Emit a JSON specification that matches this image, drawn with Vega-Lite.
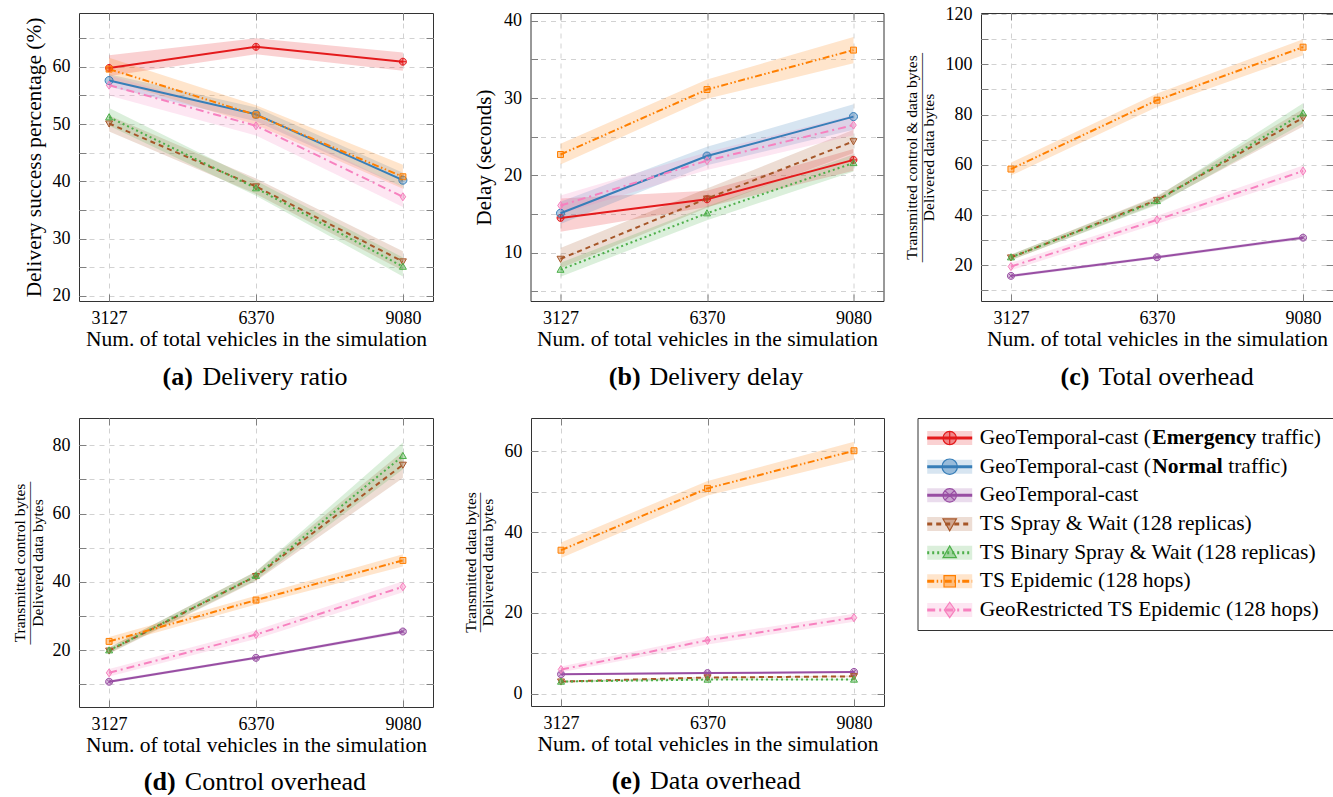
{
"$schema":"https://vega.github.io/schema/vega-lite/v6.json",
"background":"white",
"padding":{"left":11,"top":4,"right":0,"bottom":0},
"spacing":27,
"datasets":{
"d":[
{"p":"a","s":"E","x":3127,"y":59.8,"lo":58.4,"hi":62.0},{"p":"a","s":"E","x":6370,"y":63.5,"lo":62.2,"hi":65.0},{"p":"a","s":"E","x":9080,"y":60.9,"lo":59.3,"hi":62.5},
{"p":"a","s":"N","x":3127,"y":57.6,"lo":56.5,"hi":58.7},{"p":"a","s":"N","x":6370,"y":51.7,"lo":50.5,"hi":52.9},{"p":"a","s":"N","x":9080,"y":40.2,"lo":39.0,"hi":41.5},
{"p":"a","s":"SW","x":3127,"y":50.1,"lo":48.7,"hi":51.5},{"p":"a","s":"SW","x":6370,"y":39.1,"lo":37.8,"hi":40.5},{"p":"a","s":"SW","x":9080,"y":26.0,"lo":24.4,"hi":27.8},
{"p":"a","s":"BSW","x":3127,"y":51.2,"lo":49.7,"hi":52.8},{"p":"a","s":"BSW","x":6370,"y":38.8,"lo":37.5,"hi":40.1},{"p":"a","s":"BSW","x":9080,"y":25.1,"lo":23.4,"hi":26.7},
{"p":"a","s":"EP","x":3127,"y":59.6,"lo":57.7,"hi":61.6},{"p":"a","s":"EP","x":6370,"y":51.6,"lo":49.9,"hi":53.3},{"p":"a","s":"EP","x":9080,"y":40.8,"lo":38.7,"hi":42.9},
{"p":"a","s":"GR","x":3127,"y":56.8,"lo":55.0,"hi":58.5},{"p":"a","s":"GR","x":6370,"y":49.7,"lo":48.0,"hi":51.3},{"p":"a","s":"GR","x":9080,"y":37.3,"lo":35.5,"hi":39.0},
{"p":"b","s":"E","x":3127,"y":14.5,"lo":12.7,"hi":17.0},{"p":"b","s":"E","x":6370,"y":16.9,"lo":15.9,"hi":18.0},{"p":"b","s":"E","x":9080,"y":22.0,"lo":20.6,"hi":23.4},
{"p":"b","s":"N","x":3127,"y":15.1,"lo":13.7,"hi":16.6},{"p":"b","s":"N","x":6370,"y":22.5,"lo":21.3,"hi":23.7},{"p":"b","s":"N","x":9080,"y":27.6,"lo":25.9,"hi":29.2},
{"p":"b","s":"SW","x":3127,"y":9.2,"lo":8.0,"hi":10.6},{"p":"b","s":"SW","x":6370,"y":17.0,"lo":15.8,"hi":18.3},{"p":"b","s":"SW","x":9080,"y":24.4,"lo":22.9,"hi":25.9},
{"p":"b","s":"BSW","x":3127,"y":7.8,"lo":6.9,"hi":8.7},{"p":"b","s":"BSW","x":6370,"y":15.1,"lo":14.2,"hi":16.0},{"p":"b","s":"BSW","x":9080,"y":21.6,"lo":20.5,"hi":22.7},
{"p":"b","s":"EP","x":3127,"y":22.7,"lo":21.4,"hi":24.1},{"p":"b","s":"EP","x":6370,"y":31.1,"lo":29.9,"hi":32.4},{"p":"b","s":"EP","x":9080,"y":36.2,"lo":34.5,"hi":37.9},
{"p":"b","s":"GR","x":3127,"y":16.1,"lo":15.0,"hi":17.4},{"p":"b","s":"GR","x":6370,"y":21.9,"lo":20.7,"hi":23.0},{"p":"b","s":"GR","x":9080,"y":26.5,"lo":25.2,"hi":27.8},
{"p":"c","s":"G","x":3127,"y":15.8,"lo":15.2,"hi":16.4},{"p":"c","s":"G","x":6370,"y":23.2,"lo":22.6,"hi":23.8},{"p":"c","s":"G","x":9080,"y":31.0,"lo":30.3,"hi":31.7},
{"p":"c","s":"SW","x":3127,"y":23.1,"lo":22.0,"hi":24.2},{"p":"c","s":"SW","x":6370,"y":46.0,"lo":44.4,"hi":47.6},{"p":"c","s":"SW","x":9080,"y":78.7,"lo":75.2,"hi":82.2},
{"p":"c","s":"BSW","x":3127,"y":23.2,"lo":22.1,"hi":24.3},{"p":"c","s":"BSW","x":6370,"y":45.6,"lo":44.0,"hi":47.2},{"p":"c","s":"BSW","x":9080,"y":80.5,"lo":76.5,"hi":84.5},
{"p":"c","s":"EP","x":3127,"y":58.3,"lo":55.7,"hi":60.9},{"p":"c","s":"EP","x":6370,"y":85.7,"lo":83.0,"hi":88.4},{"p":"c","s":"EP","x":9080,"y":106.8,"lo":103.6,"hi":110.0},
{"p":"c","s":"GR","x":3127,"y":19.5,"lo":18.0,"hi":21.0},{"p":"c","s":"GR","x":6370,"y":38.1,"lo":36.5,"hi":39.7},{"p":"c","s":"GR","x":9080,"y":57.5,"lo":55.3,"hi":59.7},
{"p":"d","s":"G","x":3127,"y":10.8,"lo":10.4,"hi":11.2},{"p":"d","s":"G","x":6370,"y":17.8,"lo":17.4,"hi":18.2},{"p":"d","s":"G","x":9080,"y":25.5,"lo":25.0,"hi":26.0},
{"p":"d","s":"SW","x":3127,"y":19.9,"lo":19.0,"hi":20.8},{"p":"d","s":"SW","x":6370,"y":41.7,"lo":40.3,"hi":43.1},{"p":"d","s":"SW","x":9080,"y":74.3,"lo":70.4,"hi":78.2},
{"p":"d","s":"BSW","x":3127,"y":20.0,"lo":19.2,"hi":20.8},{"p":"d","s":"BSW","x":6370,"y":41.8,"lo":40.5,"hi":43.1},{"p":"d","s":"BSW","x":9080,"y":76.9,"lo":73.0,"hi":80.8},
{"p":"d","s":"EP","x":3127,"y":22.6,"lo":21.3,"hi":23.9},{"p":"d","s":"EP","x":6370,"y":34.7,"lo":33.4,"hi":36.0},{"p":"d","s":"EP","x":9080,"y":46.3,"lo":44.5,"hi":48.1},
{"p":"d","s":"GR","x":3127,"y":13.4,"lo":12.3,"hi":14.5},{"p":"d","s":"GR","x":6370,"y":24.6,"lo":23.3,"hi":25.9},{"p":"d","s":"GR","x":9080,"y":38.6,"lo":37.0,"hi":40.2},
{"p":"e","s":"G","x":3127,"y":4.8,"lo":4.6,"hi":5.0},{"p":"e","s":"G","x":6370,"y":5.1,"lo":4.9,"hi":5.3},{"p":"e","s":"G","x":9080,"y":5.4,"lo":5.2,"hi":5.6},
{"p":"e","s":"SW","x":3127,"y":3.0,"lo":2.8,"hi":3.2},{"p":"e","s":"SW","x":6370,"y":4.0,"lo":3.8,"hi":4.2},{"p":"e","s":"SW","x":9080,"y":4.3,"lo":4.1,"hi":4.5},
{"p":"e","s":"BSW","x":3127,"y":3.0,"lo":2.8,"hi":3.2},{"p":"e","s":"BSW","x":6370,"y":3.5,"lo":3.3,"hi":3.7},{"p":"e","s":"BSW","x":9080,"y":3.5,"lo":3.3,"hi":3.7},
{"p":"e","s":"EP","x":3127,"y":35.5,"lo":33.6,"hi":37.4},{"p":"e","s":"EP","x":6370,"y":50.8,"lo":49.0,"hi":52.6},{"p":"e","s":"EP","x":9080,"y":60.1,"lo":57.9,"hi":62.3},
{"p":"e","s":"GR","x":3127,"y":6.0,"lo":5.3,"hi":6.7},{"p":"e","s":"GR","x":6370,"y":13.2,"lo":12.2,"hi":14.2},{"p":"e","s":"GR","x":9080,"y":18.8,"lo":17.8,"hi":19.8}
],
"leg":[
{"s":"E","t1":"GeoTemporal-cast (","t2":"Emergency","t3":"traffic)"},
{"s":"N","t1":"GeoTemporal-cast (","t2":"Normal","t3":"traffic)"},
{"s":"G","t1":"GeoTemporal-cast"},
{"s":"SW","t1":"TS Spray & Wait (128 replicas)"},
{"s":"BSW","t1":"TS Binary Spray & Wait (128 replicas)"},
{"s":"EP","t1":"TS Epidemic (128 hops)"},
{"s":"GR","t1":"GeoRestricted TS Epidemic (128 hops)"}
]
},
"vconcat":[
{"hconcat":[
{
"width":354,"height":288,"data":{"name":"d"},"transform":[{"filter":"datum.p==='a'"}],
"layer":[
{"mark":{"type":"area","opacity":0.2},"encoding":{
"x":{"field":"x","type":"ordinal","scale":{"type":"point","padding":0.205},"axis":{"orient":"bottom","labelAngle":0,"grid":true,"labelPadding":29.3,"labelBaseline":"alphabetic","title":"Num. of total vehicles in the simulation","titleFontSize":21.5,"titleX":177,"titleY":44.7,"titleAlign":"center","titleBaseline":"alphabetic"}},
"y":{"field":"lo","type":"quantitative","stack":null,"scale":{"domain":[19.1,69.4],"nice":false,"zero":false},"axis":{"orient":"left","values":[20,25,30,35,40,45,50,55,60,65],"labelExpr":"datum.value % 10 === 0 ? datum.label : ''","grid":true,"labelPadding":16,"labelBaseline":"middle","title":"Delivery success percentage (%)","titleFontSize":21.4,"titleX":-45,"titleY":144,"titleAngle":-90,"titleAlign":"center","titleBaseline":"middle"}},
"y2":{"field":"hi"},
"color":{"field":"s","type":"nominal","scale":{"domain":["E","N","G","SW","BSW","EP","GR"],"range":["#e41a1c","#377eb8","#984ea3","#a65628","#4daf4a","#ff7f00","#f781bf"]},"legend":null}}},
{"transform":[{"filter":"indexof(['E','N','G'], datum.s) >= 0"}],"mark":{"type":"line","strokeWidth":2},"encoding":{
"x":{"field":"x","type":"ordinal","axis":{"orient":"top","labels":false,"grid":false,"title":null}},
"y":{"field":"y","type":"quantitative","axis":{"orient":"right","values":[20,25,30,35,40,45,50,55,60,65],"labels":false,"grid":false,"title":null}},
"color":{"field":"s","type":"nominal","scale":{"domain":["E","N","G","SW","BSW","EP","GR"],"range":["#e41a1c","#377eb8","#984ea3","#a65628","#4daf4a","#ff7f00","#f781bf"]},"legend":null}}},
{"transform":[{"filter":"indexof(['E','N','G'], datum.s) < 0"}],"mark":{"type":"line","strokeWidth":2},"encoding":{
"x":{"field":"x","type":"ordinal","axis":{"orient":"bottom","labels":false,"ticks":false,"grid":false,"title":"(a)","titleFontWeight":"bold","titleFontSize":26,"titleX":83,"titleY":83,"titleAlign":"left","titleBaseline":"alphabetic"}},
"y":{"field":"y","type":"quantitative","axis":null},
"color":{"field":"s","type":"nominal","scale":{"domain":["E","N","G","SW","BSW","EP","GR"],"range":["#e41a1c","#377eb8","#984ea3","#a65628","#4daf4a","#ff7f00","#f781bf"]},"legend":null},
"strokeDash":{"field":"s","type":"nominal","scale":{"domain":["E","N","G","SW","BSW","EP","GR"],"range":[[1,0],[1,0],[1,0],[5,4],[2,3],[7,2.5,1.5,2.5,1.5,2.5],[8,4,2,4]]},"legend":null}}},
{"mark":{"type":"point","filled":true,"opacity":1,"fillOpacity":0.4,"size":49,"strokeWidth":1},"encoding":{
"x":{"field":"x","type":"ordinal","axis":{"orient":"bottom","labels":false,"ticks":false,"grid":false,"title":"Delivery ratio","titleFontSize":26,"titleX":123,"titleY":83,"titleAlign":"left","titleBaseline":"alphabetic"}},
"y":{"field":"y","type":"quantitative","axis":null},
"color":{"field":"s","type":"nominal","scale":{"domain":["E","N","G","SW","BSW","EP","GR"],"range":["#e41a1c","#377eb8","#984ea3","#a65628","#4daf4a","#ff7f00","#f781bf"]},"legend":null},
"stroke":{"field":"s","type":"nominal","scale":{"domain":["E","N","G","SW","BSW","EP","GR"],"range":["#e41a1c","#377eb8","#984ea3","#a65628","#4daf4a","#ff7f00","#f781bf"]},"legend":null},
"shape":{"field":"s","type":"nominal","scale":{"domain":["E","N","G","SW","BSW","EP","GR"],"range":["M1,0A1,1,0,1,1,-1,0A1,1,0,1,1,1,0ZM-1,0L1,0M0,-1L0,1","M1.15,0A1.15,1.15,0,1,1,-1.15,0A1.15,1.15,0,1,1,1.15,0Z","M1,0A1,1,0,1,1,-1,0A1,1,0,1,1,1,0ZM-0.71,-0.71L0.71,0.71M-0.71,0.71L0.71,-0.71","M-1,-0.75L1,-0.75L0,1Z","M-1,0.75L1,0.75L0,-1Z","M-0.85,-0.85L0.85,-0.85L0.85,0.85L-0.85,0.85Z","M0,-1.15L0.8,0L0,1.15L-0.8,0Z"]},"legend":null}}}
],
"resolve":{"axis":{"x":"independent","y":"independent"}}
},
{
"width":353,"height":288,"data":{"name":"d"},"transform":[{"filter":"datum.p==='b'"}],
"layer":[
{"mark":{"type":"area","opacity":0.2},"encoding":{
"x":{"field":"x","type":"ordinal","scale":{"type":"point","padding":0.205},"axis":{"orient":"bottom","labelAngle":0,"grid":true,"labelPadding":29.3,"labelBaseline":"alphabetic","title":"Num. of total vehicles in the simulation","titleFontSize":21.5,"titleX":176.5,"titleY":44.7,"titleAlign":"center","titleBaseline":"alphabetic"}},
"y":{"field":"lo","type":"quantitative","stack":null,"scale":{"domain":[3.75,41.0],"nice":false,"zero":false},"axis":{"orient":"left","values":[5,10,15,20,25,30,35,40],"labelExpr":"datum.value % 10 === 0 ? datum.label : ''","grid":true,"labelPadding":16,"labelBaseline":"middle","title":"Delay (seconds)","titleX":-46.2,"titleY":144,"titleAngle":-90,"titleAlign":"center","titleBaseline":"middle"}},
"y2":{"field":"hi"},
"color":{"field":"s","type":"nominal","scale":{"domain":["E","N","G","SW","BSW","EP","GR"],"range":["#e41a1c","#377eb8","#984ea3","#a65628","#4daf4a","#ff7f00","#f781bf"]},"legend":null}}},
{"transform":[{"filter":"indexof(['E','N','G'], datum.s) >= 0"}],"mark":{"type":"line","strokeWidth":2},"encoding":{
"x":{"field":"x","type":"ordinal","axis":{"orient":"top","labels":false,"grid":false,"title":null}},
"y":{"field":"y","type":"quantitative","axis":{"orient":"right","values":[5,10,15,20,25,30,35,40],"labels":false,"grid":false,"title":null}},
"color":{"field":"s","type":"nominal","scale":{"domain":["E","N","G","SW","BSW","EP","GR"],"range":["#e41a1c","#377eb8","#984ea3","#a65628","#4daf4a","#ff7f00","#f781bf"]},"legend":null}}},
{"transform":[{"filter":"indexof(['E','N','G'], datum.s) < 0"}],"mark":{"type":"line","strokeWidth":2},"encoding":{
"x":{"field":"x","type":"ordinal","axis":{"orient":"bottom","labels":false,"ticks":false,"grid":false,"title":"(b)","titleFontWeight":"bold","titleFontSize":26,"titleX":77.8,"titleY":83,"titleAlign":"left","titleBaseline":"alphabetic"}},
"y":{"field":"y","type":"quantitative","axis":null},
"color":{"field":"s","type":"nominal","scale":{"domain":["E","N","G","SW","BSW","EP","GR"],"range":["#e41a1c","#377eb8","#984ea3","#a65628","#4daf4a","#ff7f00","#f781bf"]},"legend":null},
"strokeDash":{"field":"s","type":"nominal","scale":{"domain":["E","N","G","SW","BSW","EP","GR"],"range":[[1,0],[1,0],[1,0],[5,4],[2,3],[7,2.5,1.5,2.5,1.5,2.5],[8,4,2,4]]},"legend":null}}},
{"mark":{"type":"point","filled":true,"opacity":1,"fillOpacity":0.4,"size":49,"strokeWidth":1},"encoding":{
"x":{"field":"x","type":"ordinal","axis":{"orient":"bottom","labels":false,"ticks":false,"grid":false,"title":"Delivery delay","titleFontSize":26,"titleX":118.5,"titleY":83,"titleAlign":"left","titleBaseline":"alphabetic"}},
"y":{"field":"y","type":"quantitative","axis":null},
"color":{"field":"s","type":"nominal","scale":{"domain":["E","N","G","SW","BSW","EP","GR"],"range":["#e41a1c","#377eb8","#984ea3","#a65628","#4daf4a","#ff7f00","#f781bf"]},"legend":null},
"stroke":{"field":"s","type":"nominal","scale":{"domain":["E","N","G","SW","BSW","EP","GR"],"range":["#e41a1c","#377eb8","#984ea3","#a65628","#4daf4a","#ff7f00","#f781bf"]},"legend":null},
"shape":{"field":"s","type":"nominal","scale":{"domain":["E","N","G","SW","BSW","EP","GR"],"range":["M1,0A1,1,0,1,1,-1,0A1,1,0,1,1,1,0ZM-1,0L1,0M0,-1L0,1","M1.15,0A1.15,1.15,0,1,1,-1.15,0A1.15,1.15,0,1,1,1.15,0Z","M1,0A1,1,0,1,1,-1,0A1,1,0,1,1,1,0ZM-0.71,-0.71L0.71,0.71M-0.71,0.71L0.71,-0.71","M-1,-0.75L1,-0.75L0,1Z","M-1,0.75L1,0.75L0,-1Z","M-0.85,-0.85L0.85,-0.85L0.85,0.85L-0.85,0.85Z","M0,-1.15L0.8,0L0,1.15L-0.8,0Z"]},"legend":null}}}
],
"resolve":{"axis":{"x":"independent","y":"independent"}}
},
{
"width":352,"height":288,"data":{"name":"d"},"transform":[{"filter":"datum.p==='c'"}],
"layer":[
{"mark":{"type":"area","opacity":0.2},"encoding":{
"x":{"field":"x","type":"ordinal","scale":{"type":"point","padding":0.205},"axis":{"orient":"bottom","labelAngle":0,"grid":true,"labelPadding":29.3,"labelBaseline":"alphabetic","title":"Num. of total vehicles in the simulation","titleFontSize":21.5,"titleX":176,"titleY":44.7,"titleAlign":"center","titleBaseline":"alphabetic"}},
"y":{"field":"lo","type":"quantitative","stack":null,"scale":{"domain":[5.8,120.4],"nice":false,"zero":false},"axis":{"orient":"left","values":[10,20,30,40,50,60,70,80,90,100,110,120],"labelExpr":"datum.value % 20 === 0 ? datum.label : ''","grid":true,"labelPadding":16,"labelBaseline":"middle","title":["Transmitted control & data bytes","—————————————–","Delivered data bytes"],"titleFontSize":15.5,"titleLineHeight":8.3,"titleX":-69.3,"titleY":144,"titleAngle":-90,"titleAlign":"center","titleBaseline":"middle"}},
"y2":{"field":"hi"},
"color":{"field":"s","type":"nominal","scale":{"domain":["E","N","G","SW","BSW","EP","GR"],"range":["#e41a1c","#377eb8","#984ea3","#a65628","#4daf4a","#ff7f00","#f781bf"]},"legend":null}}},
{"transform":[{"filter":"indexof(['E','N','G'], datum.s) >= 0"}],"mark":{"type":"line","strokeWidth":2},"encoding":{
"x":{"field":"x","type":"ordinal","axis":{"orient":"top","labels":false,"grid":false,"title":null}},
"y":{"field":"y","type":"quantitative","axis":{"orient":"right","values":[10,20,30,40,50,60,70,80,90,100,110,120],"labels":false,"grid":false,"title":null}},
"color":{"field":"s","type":"nominal","scale":{"domain":["E","N","G","SW","BSW","EP","GR"],"range":["#e41a1c","#377eb8","#984ea3","#a65628","#4daf4a","#ff7f00","#f781bf"]},"legend":null}}},
{"transform":[{"filter":"indexof(['E','N','G'], datum.s) < 0"}],"mark":{"type":"line","strokeWidth":2},"encoding":{
"x":{"field":"x","type":"ordinal","axis":{"orient":"bottom","labels":false,"ticks":false,"grid":false,"title":"(c)","titleFontWeight":"bold","titleFontSize":26,"titleX":79,"titleY":83,"titleAlign":"left","titleBaseline":"alphabetic"}},
"y":{"field":"y","type":"quantitative","axis":null},
"color":{"field":"s","type":"nominal","scale":{"domain":["E","N","G","SW","BSW","EP","GR"],"range":["#e41a1c","#377eb8","#984ea3","#a65628","#4daf4a","#ff7f00","#f781bf"]},"legend":null},
"strokeDash":{"field":"s","type":"nominal","scale":{"domain":["E","N","G","SW","BSW","EP","GR"],"range":[[1,0],[1,0],[1,0],[5,4],[2,3],[7,2.5,1.5,2.5,1.5,2.5],[8,4,2,4]]},"legend":null}}},
{"mark":{"type":"point","filled":true,"opacity":1,"fillOpacity":0.4,"size":49,"strokeWidth":1},"encoding":{
"x":{"field":"x","type":"ordinal","axis":{"orient":"bottom","labels":false,"ticks":false,"grid":false,"title":"Total overhead","titleFontSize":26,"titleX":117.3,"titleY":83,"titleAlign":"left","titleBaseline":"alphabetic"}},
"y":{"field":"y","type":"quantitative","axis":null},
"color":{"field":"s","type":"nominal","scale":{"domain":["E","N","G","SW","BSW","EP","GR"],"range":["#e41a1c","#377eb8","#984ea3","#a65628","#4daf4a","#ff7f00","#f781bf"]},"legend":null},
"stroke":{"field":"s","type":"nominal","scale":{"domain":["E","N","G","SW","BSW","EP","GR"],"range":["#e41a1c","#377eb8","#984ea3","#a65628","#4daf4a","#ff7f00","#f781bf"]},"legend":null},
"shape":{"field":"s","type":"nominal","scale":{"domain":["E","N","G","SW","BSW","EP","GR"],"range":["M1,0A1,1,0,1,1,-1,0A1,1,0,1,1,1,0ZM-1,0L1,0M0,-1L0,1","M1.15,0A1.15,1.15,0,1,1,-1.15,0A1.15,1.15,0,1,1,1.15,0Z","M1,0A1,1,0,1,1,-1,0A1,1,0,1,1,1,0ZM-0.71,-0.71L0.71,0.71M-0.71,0.71L0.71,-0.71","M-1,-0.75L1,-0.75L0,1Z","M-1,0.75L1,0.75L0,-1Z","M-0.85,-0.85L0.85,-0.85L0.85,0.85L-0.85,0.85Z","M0,-1.15L0.8,0L0,1.15L-0.8,0Z"]},"legend":null}}}
],
"resolve":{"axis":{"x":"independent","y":"independent"}}
}
],"spacing":97.5,"bounds":"flush"},
{"hconcat":[
{
"width":354,"height":289,"data":{"name":"d"},"transform":[{"filter":"datum.p==='d'"}],
"layer":[
{"mark":{"type":"area","opacity":0.2},"encoding":{
"x":{"field":"x","type":"ordinal","scale":{"type":"point","padding":0.205},"axis":{"orient":"bottom","labelAngle":0,"grid":true,"labelPadding":29.3,"labelBaseline":"alphabetic","title":"Num. of total vehicles in the simulation","titleFontSize":21.5,"titleX":177,"titleY":44.4,"titleAlign":"center","titleBaseline":"alphabetic"}},
"y":{"field":"lo","type":"quantitative","stack":null,"scale":{"domain":[3.4,88.0],"nice":false,"zero":false},"axis":{"orient":"left","values":[10,20,30,40,50,60,70,80],"labelExpr":"datum.value % 20 === 0 ? datum.label : ''","grid":true,"labelPadding":16,"labelBaseline":"middle","title":["Transmitted control bytes","——————————–","Delivered data bytes"],"titleFontSize":15.5,"titleLineHeight":9,"titleX":-59.8,"titleY":144.5,"titleAngle":-90,"titleAlign":"center","titleBaseline":"middle"}},
"y2":{"field":"hi"},
"color":{"field":"s","type":"nominal","scale":{"domain":["E","N","G","SW","BSW","EP","GR"],"range":["#e41a1c","#377eb8","#984ea3","#a65628","#4daf4a","#ff7f00","#f781bf"]},"legend":null}}},
{"transform":[{"filter":"indexof(['E','N','G'], datum.s) >= 0"}],"mark":{"type":"line","strokeWidth":2},"encoding":{
"x":{"field":"x","type":"ordinal","axis":{"orient":"top","labels":false,"grid":false,"title":null}},
"y":{"field":"y","type":"quantitative","axis":{"orient":"right","values":[10,20,30,40,50,60,70,80],"labels":false,"grid":false,"title":null}},
"color":{"field":"s","type":"nominal","scale":{"domain":["E","N","G","SW","BSW","EP","GR"],"range":["#e41a1c","#377eb8","#984ea3","#a65628","#4daf4a","#ff7f00","#f781bf"]},"legend":null}}},
{"transform":[{"filter":"indexof(['E','N','G'], datum.s) < 0"}],"mark":{"type":"line","strokeWidth":2},"encoding":{
"x":{"field":"x","type":"ordinal","axis":{"orient":"bottom","labels":false,"ticks":false,"grid":false,"title":"(d)","titleFontWeight":"bold","titleFontSize":26,"titleX":64.3,"titleY":82,"titleAlign":"left","titleBaseline":"alphabetic"}},
"y":{"field":"y","type":"quantitative","axis":null},
"color":{"field":"s","type":"nominal","scale":{"domain":["E","N","G","SW","BSW","EP","GR"],"range":["#e41a1c","#377eb8","#984ea3","#a65628","#4daf4a","#ff7f00","#f781bf"]},"legend":null},
"strokeDash":{"field":"s","type":"nominal","scale":{"domain":["E","N","G","SW","BSW","EP","GR"],"range":[[1,0],[1,0],[1,0],[5,4],[2,3],[7,2.5,1.5,2.5,1.5,2.5],[8,4,2,4]]},"legend":null}}},
{"mark":{"type":"point","filled":true,"opacity":1,"fillOpacity":0.4,"size":49,"strokeWidth":1},"encoding":{
"x":{"field":"x","type":"ordinal","axis":{"orient":"bottom","labels":false,"ticks":false,"grid":false,"title":"Control overhead","titleFontSize":26,"titleX":105.3,"titleY":82,"titleAlign":"left","titleBaseline":"alphabetic"}},
"y":{"field":"y","type":"quantitative","axis":null},
"color":{"field":"s","type":"nominal","scale":{"domain":["E","N","G","SW","BSW","EP","GR"],"range":["#e41a1c","#377eb8","#984ea3","#a65628","#4daf4a","#ff7f00","#f781bf"]},"legend":null},
"stroke":{"field":"s","type":"nominal","scale":{"domain":["E","N","G","SW","BSW","EP","GR"],"range":["#e41a1c","#377eb8","#984ea3","#a65628","#4daf4a","#ff7f00","#f781bf"]},"legend":null},
"shape":{"field":"s","type":"nominal","scale":{"domain":["E","N","G","SW","BSW","EP","GR"],"range":["M1,0A1,1,0,1,1,-1,0A1,1,0,1,1,1,0ZM-1,0L1,0M0,-1L0,1","M1.15,0A1.15,1.15,0,1,1,-1.15,0A1.15,1.15,0,1,1,1.15,0Z","M1,0A1,1,0,1,1,-1,0A1,1,0,1,1,1,0ZM-0.71,-0.71L0.71,0.71M-0.71,0.71L0.71,-0.71","M-1,-0.75L1,-0.75L0,1Z","M-1,0.75L1,0.75L0,-1Z","M-0.85,-0.85L0.85,-0.85L0.85,0.85L-0.85,0.85Z","M0,-1.15L0.8,0L0,1.15L-0.8,0Z"]},"legend":null}}}
],
"resolve":{"axis":{"x":"independent","y":"independent"}}
},
{"width":30.5,"height":288,"data":{"values":[]},"mark":"point","view":{"stroke":null}},
{
"width":353,"height":288,"data":{"name":"d"},"transform":[{"filter":"datum.p==='e'"}],
"layer":[
{"mark":{"type":"area","opacity":0.2},"encoding":{
"x":{"field":"x","type":"ordinal","scale":{"type":"point","padding":0.205},"axis":{"orient":"bottom","labelAngle":0,"grid":true,"labelPadding":29.3,"labelBaseline":"alphabetic","title":"Num. of total vehicles in the simulation","titleFontSize":21.5,"titleX":176.5,"titleY":44.4,"titleAlign":"center","titleBaseline":"alphabetic"}},
"y":{"field":"lo","type":"quantitative","stack":null,"scale":{"domain":[-3.04,68.2],"nice":false,"zero":false},"axis":{"orient":"left","values":[0,10,20,30,40,50,60],"labelExpr":"datum.value % 20 === 0 ? datum.label : ''","grid":true,"labelPadding":16,"labelBaseline":"middle","title":["Transmitted data bytes","—————————","Delivered data bytes"],"titleFontSize":15.5,"titleLineHeight":8.35,"titleX":-60.5,"titleY":144,"titleAngle":-90,"titleAlign":"center","titleBaseline":"middle"}},
"y2":{"field":"hi"},
"color":{"field":"s","type":"nominal","scale":{"domain":["E","N","G","SW","BSW","EP","GR"],"range":["#e41a1c","#377eb8","#984ea3","#a65628","#4daf4a","#ff7f00","#f781bf"]},"legend":null}}},
{"transform":[{"filter":"indexof(['E','N','G'], datum.s) >= 0"}],"mark":{"type":"line","strokeWidth":2},"encoding":{
"x":{"field":"x","type":"ordinal","axis":{"orient":"top","labels":false,"grid":false,"title":null}},
"y":{"field":"y","type":"quantitative","axis":{"orient":"right","values":[0,10,20,30,40,50,60],"labels":false,"grid":false,"title":null}},
"color":{"field":"s","type":"nominal","scale":{"domain":["E","N","G","SW","BSW","EP","GR"],"range":["#e41a1c","#377eb8","#984ea3","#a65628","#4daf4a","#ff7f00","#f781bf"]},"legend":null}}},
{"transform":[{"filter":"indexof(['E','N','G'], datum.s) < 0"}],"mark":{"type":"line","strokeWidth":2},"encoding":{
"x":{"field":"x","type":"ordinal","axis":{"orient":"bottom","labels":false,"ticks":false,"grid":false,"title":"(e)","titleFontWeight":"bold","titleFontSize":26,"titleX":80.2,"titleY":82,"titleAlign":"left","titleBaseline":"alphabetic"}},
"y":{"field":"y","type":"quantitative","axis":null},
"color":{"field":"s","type":"nominal","scale":{"domain":["E","N","G","SW","BSW","EP","GR"],"range":["#e41a1c","#377eb8","#984ea3","#a65628","#4daf4a","#ff7f00","#f781bf"]},"legend":null},
"strokeDash":{"field":"s","type":"nominal","scale":{"domain":["E","N","G","SW","BSW","EP","GR"],"range":[[1,0],[1,0],[1,0],[5,4],[2,3],[7,2.5,1.5,2.5,1.5,2.5],[8,4,2,4]]},"legend":null}}},
{"mark":{"type":"point","filled":true,"opacity":1,"fillOpacity":0.4,"size":49,"strokeWidth":1},"encoding":{
"x":{"field":"x","type":"ordinal","axis":{"orient":"bottom","labels":false,"ticks":false,"grid":false,"title":"Data overhead","titleFontSize":26,"titleX":118.5,"titleY":82,"titleAlign":"left","titleBaseline":"alphabetic"}},
"y":{"field":"y","type":"quantitative","axis":null},
"color":{"field":"s","type":"nominal","scale":{"domain":["E","N","G","SW","BSW","EP","GR"],"range":["#e41a1c","#377eb8","#984ea3","#a65628","#4daf4a","#ff7f00","#f781bf"]},"legend":null},
"stroke":{"field":"s","type":"nominal","scale":{"domain":["E","N","G","SW","BSW","EP","GR"],"range":["#e41a1c","#377eb8","#984ea3","#a65628","#4daf4a","#ff7f00","#f781bf"]},"legend":null},
"shape":{"field":"s","type":"nominal","scale":{"domain":["E","N","G","SW","BSW","EP","GR"],"range":["M1,0A1,1,0,1,1,-1,0A1,1,0,1,1,1,0ZM-1,0L1,0M0,-1L0,1","M1.15,0A1.15,1.15,0,1,1,-1.15,0A1.15,1.15,0,1,1,1.15,0Z","M1,0A1,1,0,1,1,-1,0A1,1,0,1,1,1,0ZM-0.71,-0.71L0.71,0.71M-0.71,0.71L0.71,-0.71","M-1,-0.75L1,-0.75L0,1Z","M-1,0.75L1,0.75L0,-1Z","M-0.85,-0.85L0.85,-0.85L0.85,0.85L-0.85,0.85Z","M0,-1.15L0.8,0L0,1.15L-0.8,0Z"]},"legend":null}}}
],
"resolve":{"axis":{"x":"independent","y":"independent"}}
},
{
"width":416,"height":212,"data":{"name":"leg"},
"encoding":{"y":{"field":"s","type":"nominal","scale":{"type":"point","padding":0.7,"domain":["E","N","G","SW","BSW","EP","GR"]},"axis":null}},
"layer":[
{"mark":{"type":"rule","strokeWidth":14,"opacity":0.2,"strokeCap":"butt"},"encoding":{
"x":{"datum":9.7,"type":"quantitative","scale":{"domain":[0,416],"nice":false,"zero":false},"axis":null},"x2":{"datum":54.7},
"color":{"field":"s","type":"nominal","scale":{"domain":["E","N","G","SW","BSW","EP","GR"],"range":["#e41a1c","#377eb8","#984ea3","#a65628","#4daf4a","#ff7f00","#f781bf"]},"legend":null}}},
{"mark":{"type":"rule","strokeWidth":3,"strokeCap":"butt"},"encoding":{
"x":{"datum":9.7,"type":"quantitative"},"x2":{"datum":54.7},
"color":{"field":"s","type":"nominal","scale":{"domain":["E","N","G","SW","BSW","EP","GR"],"range":["#e41a1c","#377eb8","#984ea3","#a65628","#4daf4a","#ff7f00","#f781bf"]},"legend":null},
"strokeDash":{"field":"s","type":"nominal","scale":{"domain":["E","N","G","SW","BSW","EP","GR"],"range":[[1,0],[1,0],[1,0],[5,4],[2,3],[7,2.5,1.5,2.5,1.5,2.5],[8,4,2,4]]},"legend":null}}},
{"mark":{"type":"point","filled":true,"opacity":1,"fillOpacity":0.4,"size":180,"strokeWidth":1.2},"encoding":{
"x":{"datum":32.2,"type":"quantitative"},
"color":{"field":"s","type":"nominal","scale":{"domain":["E","N","G","SW","BSW","EP","GR"],"range":["#e41a1c","#377eb8","#984ea3","#a65628","#4daf4a","#ff7f00","#f781bf"]},"legend":null},
"stroke":{"field":"s","type":"nominal","scale":{"domain":["E","N","G","SW","BSW","EP","GR"],"range":["#e41a1c","#377eb8","#984ea3","#a65628","#4daf4a","#ff7f00","#f781bf"]},"legend":null},
"shape":{"field":"s","type":"nominal","scale":{"domain":["E","N","G","SW","BSW","EP","GR"],"range":["M1,0A1,1,0,1,1,-1,0A1,1,0,1,1,1,0ZM-1,0L1,0M0,-1L0,1","M1.15,0A1.15,1.15,0,1,1,-1.15,0A1.15,1.15,0,1,1,1.15,0Z","M1,0A1,1,0,1,1,-1,0A1,1,0,1,1,1,0ZM-0.71,-0.71L0.71,0.71M-0.71,0.71L0.71,-0.71","M-1,-0.75L1,-0.75L0,1Z","M-1,0.75L1,0.75L0,-1Z","M-0.85,-0.85L0.85,-0.85L0.85,0.85L-0.85,0.85Z","M0,-1.15L0.8,0L0,1.15L-0.8,0Z"]},"legend":null}}},
{"mark":{"type":"text","align":"left","baseline":"middle","font":"Liberation Serif","fontSize":21.5,"color":"#000"},"encoding":{"x":{"datum":62.3,"type":"quantitative"},"text":{"field":"t1"}}},
{"transform":[{"filter":"datum.t2"}],"mark":{"type":"text","align":"left","baseline":"middle","font":"Liberation Serif","fontSize":21.5,"fontWeight":"bold","dx":172.5,"color":"#000"},"encoding":{"x":{"datum":62.3,"type":"quantitative"},"text":{"field":"t2"}}},
{"transform":[{"filter":"datum.s==='E'"}],"mark":{"type":"text","align":"left","baseline":"middle","font":"Liberation Serif","fontSize":21.5,"dx":281.8,"color":"#000"},"encoding":{"x":{"datum":62.3,"type":"quantitative"},"text":{"field":"t3"}}},
{"transform":[{"filter":"datum.s==='N'"}],"mark":{"type":"text","align":"left","baseline":"middle","font":"Liberation Serif","fontSize":21.5,"dx":248.4,"color":"#000"},"encoding":{"x":{"datum":62.3,"type":"quantitative"},"text":{"field":"t3"}}}
]
}
],"spacing":33.5,"bounds":"flush"}
],
"config":{
"view":{"stroke":"#333333","strokeWidth":1},
"font":"Liberation Serif",
"axis":{"labelFont":"Liberation Serif","titleFont":"Liberation Serif","labelColor":"#000000","titleColor":"#000000","titleFontWeight":"normal","labelFontSize":18,"titleFontSize":21,"domain":false,"tickColor":"#808080","tickSize":-7,"tickWidth":1,"gridColor":"#d2d2d2","gridDash":[5,5],"gridWidth":1}
}
}
